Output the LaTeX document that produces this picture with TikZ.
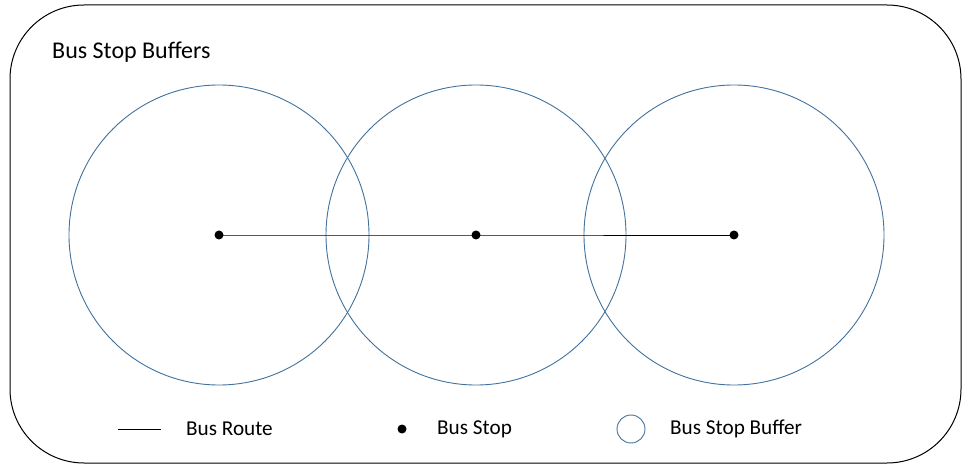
\documentclass[tikz,border=0pt]{standalone}
\usepackage{fontspec}
\setmainfont{Carlito}
\definecolor{bufblue}{RGB}{65,113,156}
\begin{document}
\begin{tikzpicture}[x=1pt,y=-1pt,
  lbl/.style={inner sep=0pt,anchor=west,font=\fontsize{21.2}{25}\selectfont},
  buffer/.style={draw=bufblue,line width=0.9pt},
  stopdot/.style={circle,fill=black,inner sep=0pt,minimum size=9pt},
  route/.style={draw=black,line width=0.8pt}]
\useasboundingbox (0,0) rectangle (962,465);
\draw[line width=1pt,rounded corners=74pt] (10,5) rectangle (961,463);
\node[lbl,font=\fontsize{24}{28}\selectfont] (title) at (52,52) {Bus Stop Buffers};
\draw[buffer] (219,235) circle[radius=150];
\draw[buffer] (476,235) circle[radius=150];
\draw[buffer] (734,235) circle[radius=150];
\node[stopdot] (s1) at (219,235) {};
\node[stopdot] (s2) at (476,235) {};
\node[stopdot] (s3) at (734,235) {};
\draw[route] (s1.center) -- (s2.center) -- (s3.center);
\coordinate (la) at (118,429);
\coordinate (lb) at (161,429);
\draw[route] (la) -- (lb);
\node[lbl] (t1) at (186,429) {Bus Route};
\node[stopdot] (ld) at (402,429) {};
\node[lbl] (t2) at (437,429) {Bus Stop};
\node[circle,buffer,minimum size=28pt,inner sep=0pt] (lc) at (631,429) {};
\node[lbl] (t3) at (670,429) {Bus Stop Buffer};
\end{tikzpicture}
\end{document}
